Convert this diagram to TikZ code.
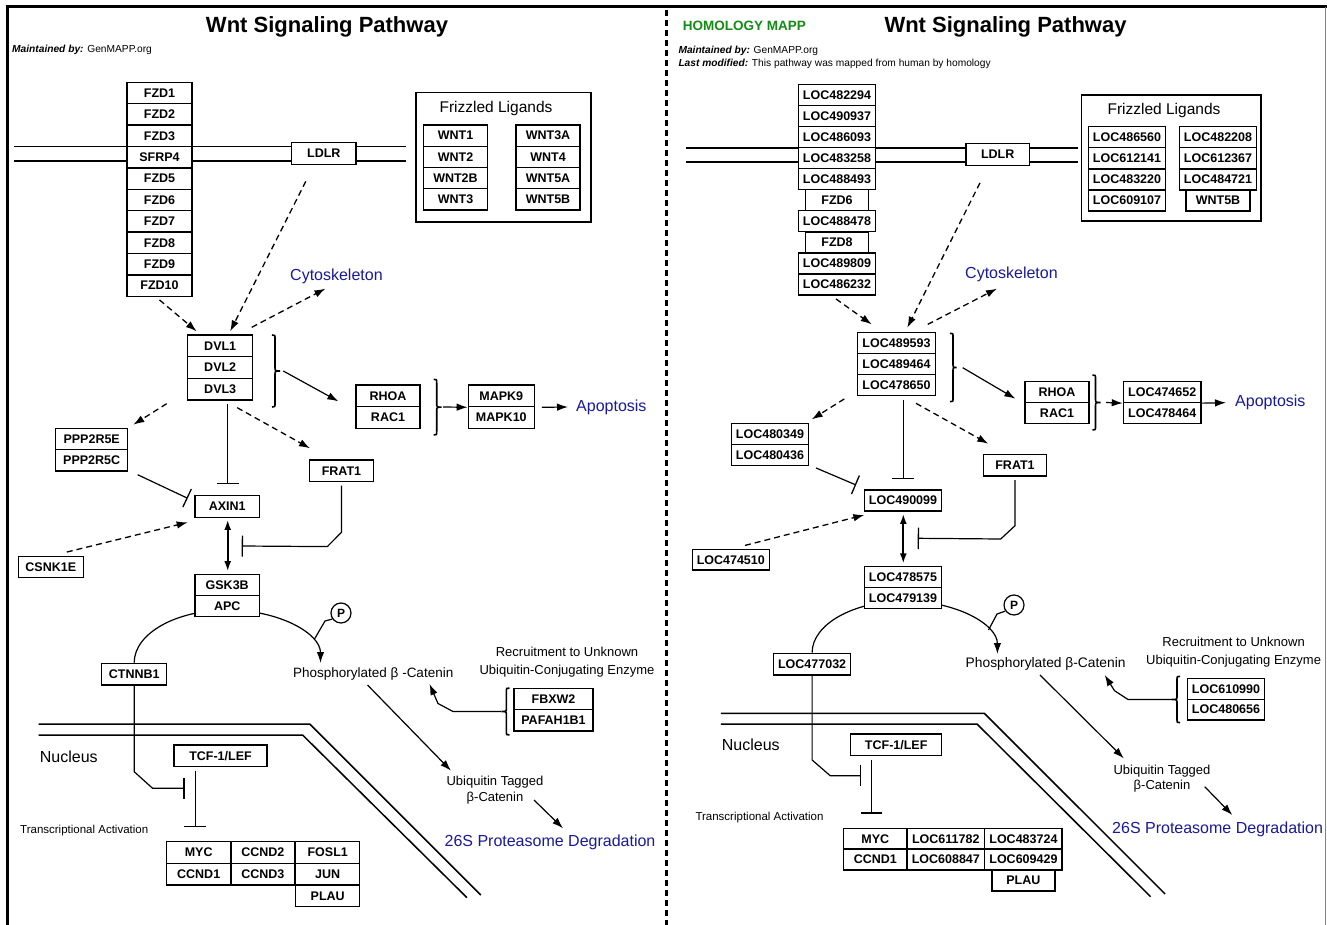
\documentclass[tikz,border=0pt]{standalone}
\usepackage{fontspec}
\setmainfont{Liberation Sans}
\usetikzlibrary{arrows.meta,calc}
\definecolor{mapblue}{RGB}{25,25,155}
\definecolor{mapgreen}{RGB}{20,140,20}
\definecolor{framegray}{RGB}{130,130,130}
\newcommand{\gfont}{\fontsize{12.5}{14}\selectfont\bfseries}
% bracket-like brace: x, y1, y2, direction (1 = tip right, -1 = tip left), tip size
\newcommand{\mybrace}[5]{%
  \pgfmathsetmacro{\brmid}{(#2+#3)/2}%
  \draw[line width=1.6pt] ({#1-3*(#4)},#2) .. controls (#1,#2) .. (#1,{#2+4}) -- (#1,{\brmid-4}) .. controls (#1,\brmid) .. ({#1+(#5)*(#4)},\brmid) .. controls (#1,\brmid) .. (#1,{\brmid+4}) -- (#1,{#3-4}) .. controls (#1,#3) .. ({#1-3*(#4)},#3);%
}
\begin{document}
\begin{tikzpicture}[x=1pt,y=-1pt,
  gene/.style={draw, line width=1.3pt, fill=white, font=\gfont, inner sep=0pt, minimum height=21.4pt},
  lab/.style={inner sep=0pt, font=\fontsize{13}{16}\selectfont},
  bluelab/.style={inner sep=0pt, text=mapblue, font=\fontsize{16}{19}\selectfont, anchor=west},
  titlelab/.style={inner sep=0pt, font=\fontsize{22}{26}\selectfont\bfseries},
  metalab/.style={inner sep=0pt, anchor=west, font=\fontsize{10.2}{12}\selectfont},
  arr/.style={line width=1.2pt, -{Latex[length=11pt,width=7.5pt]}},
  darr/.style={line width=1.3pt, dash pattern=on 6pt off 4pt, -{Latex[length=11pt,width=7.5pt]}},
  inh/.style={line width=1.2pt, -{Bar[width=#1,line width=1.3pt]}},
  inh/.default=21pt,
  dbl/.style={line width=1.8pt, {Latex[length=10pt,width=7pt]}-{Latex[length=10pt,width=7pt]}},
  mem/.style={line width=1.5pt},
  pcirc/.style={draw, circle, line width=1.2pt, fill=white, minimum size=20pt, inner sep=0pt, font=\fontsize{12}{14}\selectfont\bfseries},
]
\useasboundingbox (0,0) rectangle (1327,925);
\fill[white] (0,0) rectangle (1327,925);
% frame
\draw[line width=3pt] (7,925) -- (7,7) -- (1327,7);
\draw[framegray, line width=1.5pt] (1325.5,7) -- (1325.5,925);
\draw[line width=3pt, dash pattern=on 6pt off 4pt] (666,10) -- (666,925);

%%%%%%%%%%%%%%%% LEFT PANEL %%%%%%%%%%%%%%%%
\node[titlelab] (tl) at (327,27) {Wnt Signaling Pathway};
\node[metalab] (mtl) at (12,50) {\textbf{\textit{Maintained by:}} GenMAPP.org};

% membranes
\draw[mem] (14,146.3) -- (406,146.3);
\draw[mem] (14,161) -- (406,161);
\draw[mem] (38.5,724) -- (309.8,724) -- (480.8,895);
\draw[mem] (38.5,735) -- (302.6,735) -- (467,897.7);

% FZD stack
\node[gene, minimum width=65pt] (fzd1) at (159.5,93) {FZD1};
\node[gene, minimum width=65pt] (fzd2) at (159.5,114.4) {FZD2};
\node[gene, minimum width=65pt] (fzd3) at (159.5,135.8) {FZD3};
\node[gene, minimum width=65pt] (sfrp4) at (159.5,157.2) {SFRP4};
\node[gene, minimum width=65pt] (fzd5) at (159.5,178.6) {FZD5};
\node[gene, minimum width=65pt] (fzd6) at (159.5,200) {FZD6};
\node[gene, minimum width=65pt] (fzd7) at (159.5,221.4) {FZD7};
\node[gene, minimum width=65pt] (fzd8) at (159.5,242.8) {FZD8};
\node[gene, minimum width=65pt] (fzd9) at (159.5,264.2) {FZD9};
\node[gene, minimum width=65pt] (fzd10) at (159.5,285.6) {FZD10};

\node[gene, minimum width=64.3pt, minimum height=22pt] (ldlr) at (323.8,153.7) {LDLR};

% Frizzled ligands
\node[draw, line width=1.3pt, minimum width=175pt, minimum height=129.3pt, inner sep=0pt] (flbox) at (503.5,157.35) {};
\node[lab, font=\fontsize{15.5}{18}\selectfont] (flt) at (496,108) {Frizzled Ligands};
\node[gene, minimum width=64.4pt, minimum height=21.25pt] (wnt1) at (455.5,135.6) {WNT1};
\node[gene, minimum width=64.4pt, minimum height=21.25pt] (wnt2) at (455.5,156.9) {WNT2};
\node[gene, minimum width=64.4pt, minimum height=21.25pt] (wnt2b) at (455.5,178.1) {WNT2B};
\node[gene, minimum width=64.4pt, minimum height=21.25pt] (wnt3) at (455.5,199.4) {WNT3};
\node[gene, minimum width=64pt, minimum height=21.25pt] (wnt3a) at (548,135.6) {WNT3A};
\node[gene, minimum width=64pt, minimum height=21.25pt] (wnt4) at (548,156.9) {WNT4};
\node[gene, minimum width=64pt, minimum height=21.25pt] (wnt5a) at (548,178.1) {WNT5A};
\node[gene, minimum width=64pt, minimum height=21.25pt] (wnt5b) at (548,199.4) {WNT5B};

\node[bluelab] (cyto) at (290,276) {Cytoskeleton};

% DVL
\node[gene, minimum width=65pt, minimum height=21.67pt] (dvl1) at (220.2,345.8) {DVL1};
\node[gene, minimum width=65pt, minimum height=21.67pt] (dvl2) at (220.2,367.5) {DVL2};
\node[gene, minimum width=65pt, minimum height=21.67pt] (dvl3) at (220.2,389.2) {DVL3};

\node[gene, minimum width=64pt, minimum height=21.67pt] (rhoa) at (388,395.8) {RHOA};
\node[gene, minimum width=64pt, minimum height=21.67pt] (rac1) at (388,417.5) {RAC1};
\node[gene, minimum width=66pt, minimum height=21.67pt] (mapk9) at (501.3,395.8) {MAPK9};
\node[gene, minimum width=66pt, minimum height=21.67pt] (mapk10) at (501.3,417.5) {MAPK10};
\node[bluelab] (apop) at (576,407) {Apoptosis};

\node[gene, minimum width=72pt, minimum height=21.35pt] (ppp1) at (91.7,439) {PPP2R5E};
\node[gene, minimum width=72pt, minimum height=21.35pt] (ppp2) at (91.7,460.4) {PPP2R5C};
\node[gene, minimum width=64.4pt, minimum height=21.7pt] (frat) at (341.5,470.8) {FRAT1};
\node[gene, minimum width=64.3pt, minimum height=21.6pt] (axin) at (227.2,506.5) {AXIN1};
\node[gene, minimum width=65pt, minimum height=21pt] (csnk) at (50.8,567.2) {CSNK1E};

\node[gene, minimum width=65pt, minimum height=21.7pt] (ctnnb) at (134.2,674.2) {CTNNB1};
\coordinate (ph1) at (320.5,663);
\draw[arr] (ctnnb.north) .. controls (134.2,633.3) and (176.2,610) .. (227.5,610) .. controls (278.8,610) and (320.5,633.3) .. (ph1);

\node[gene, minimum width=64.3pt, minimum height=21.2pt] (gsk) at (227.2,584.9) {GSK3B};
\node[gene, minimum width=64.3pt, minimum height=21.2pt] (apc) at (227.2,606.1) {APC};
\node[pcirc] (p1) at (341,613) {P};
\draw[line width=1.2pt] (p1.215) -- (325,621) -- (314.5,639);

\node[lab, anchor=west, font=\fontsize{13.5}{16}\selectfont] (phos) at (293,674) {Phosphorylated β -Catenin};
\node[lab, align=center, font=\fontsize{13}{18.3}\selectfont] (recr) at (567,662) {Recruitment to Unknown\\Ubiquitin-Conjugating Enzyme};
\node[gene, minimum width=79pt, minimum height=21.35pt] (fbxw) at (553.5,699) {FBXW2};
\node[gene, minimum width=79pt, minimum height=21.35pt] (pafah) at (553.5,720.3) {PAFAH1B1};
\node[lab, align=center, font=\fontsize{13}{16}\selectfont] (ubiq) at (495,789.7) {Ubiquitin Tagged\\β-Catenin};
\node[bluelab] (deg) at (444.4,842.7) {26S Proteasome Degradation};

\node[lab, anchor=west, font=\fontsize{16}{19}\selectfont] (nuc) at (39.7,756.7) {Nucleus};
\node[lab, anchor=west, font=\fontsize{11.5}{14}\selectfont] (trans) at (20,831) {Transcriptional Activation};
\node[gene, minimum width=93pt, minimum height=21.7pt] (tcf) at (220.5,755.8) {TCF-1/LEF};

\node[gene, minimum width=64.1pt, minimum height=21.7pt] (myc) at (198.7,852.5) {MYC};
\node[gene, minimum width=64.1pt, minimum height=21.7pt] (ccnd1) at (198.7,874.2) {CCND1};
\node[gene, minimum width=64.1pt, minimum height=21.7pt] (ccnd2) at (262.9,852.5) {CCND2};
\node[gene, minimum width=64.1pt, minimum height=21.7pt] (ccnd3) at (262.9,874.2) {CCND3};
\node[gene, minimum width=64.1pt, minimum height=21.7pt] (fosl1) at (327.7,852.5) {FOSL1};
\node[gene, minimum width=64.1pt, minimum height=21.7pt] (jun) at (327.7,874.2) {JUN};
\node[gene, minimum width=64.1pt, minimum height=21.7pt] (plau) at (327.7,895.9) {PLAU};

% left connectors
\draw[darr] ([yshift=-3pt]fzd10.south) -- ([xshift=-23.5pt,yshift=3pt]dvl1.north);
\draw[darr] ([xshift=-18pt,yshift=-16pt]ldlr.south) -- ([xshift=10pt,yshift=3pt]dvl1.north);
\draw[darr] ([xshift=31.5pt,yshift=7pt]dvl1.north) -- ([xshift=-11pt,yshift=-5pt]cyto.south);
\mybrace{275}{335}{407}{1}{5}
\coordinate (b1) at (283.3,371);
\draw[arr] (b1) -- ([xshift=-17pt,yshift=-17pt]rhoa.north west);
\mybrace{436.7}{379.3}{435}{1}{5}
\coordinate (b2) at (443,407);
\draw[arr] (b2) -- (mapk9.south west);
\draw[arr] ([xshift=7pt]mapk9.south east) -- ([xshift=-8pt]apop.west);
\draw[darr] ([xshift=-53.5pt,yshift=-3pt]dvl3.south) -- ([xshift=41.6pt,yshift=3pt]ppp1.north);
\draw[darr] ([xshift=17pt,yshift=-7pt]dvl3.south) -- ([xshift=-31.5pt,yshift=11pt]frat.north);
\draw[inh=22pt] ([xshift=7.5pt,yshift=-3pt]dvl3.south) -- ([xshift=0.5pt,yshift=11pt]axin.north);
\draw[inh=20pt] ([xshift=46pt,yshift=-3pt]ppp2.south) -- ([xshift=-6.7pt,yshift=8.2pt]axin.west);
\draw[darr] ([xshift=16pt,yshift=4pt]csnk.north) -- ([xshift=-6.7pt,yshift=-4.4pt]axin.south west);
\draw[dbl] ([xshift=0.5pt,yshift=-2pt]axin.south) -- ([xshift=0.5pt,yshift=2.6pt]gsk.north);
\coordinate (fi) at (241.7,546);
\draw[inh] ([yshift=-3.3pt]frat.south) -- ++(0,46.7) -- ++(-14.2,14.3) -- (fi);
\mybrace{506.4}{688}{735}{-1}{5}
\coordinate (b3) at (501,711.5);
\coordinate (phr) at (429.5,684);
\draw[arr] (b3) -- (453,711.5) -- (438,703.5) -- (phr);
\coordinate (u1) at (367.5,685);
\coordinate (u2) at (451,770.7);
\draw[arr] (u1) -- (u2);
\coordinate (d1) at (534,800);
\coordinate (d2) at (563,828.3);
\draw[arr] (d1) -- (d2);
\coordinate (ci) at (184.6,788.3);
\draw[inh] (ctnnb.south) -- (134.2,771.7) -- (152.6,788.3) -- (ci);
\draw[inh=22pt] ([xshift=-25.2pt,yshift=-3.3pt]tcf.south) -- ([xshift=-3.4pt,yshift=14pt]myc.north);

%%%%%%%%%%%%%%%% RIGHT PANEL %%%%%%%%%%%%%%%%
\node[titlelab] (tr) at (1005.5,27) {Wnt Signaling Pathway};
\node[inner sep=0pt, text=mapgreen, font=\fontsize{13.5}{16}\selectfont\bfseries, anchor=west] (hom) at (682.7,26) {HOMOLOGY MAPP};
\node[metalab] (mtr) at (678.3,50.7) {\textbf{\textit{Maintained by:}} GenMAPP.org};
\node[metalab] (lmr) at (678.3,64.3) {\textbf{\textit{Last modified:}} This pathway was mapped from human by homology};

\draw[mem] (686,148) -- (1078.3,148);
\draw[mem] (686,162) -- (1078.3,162);
\draw[mem] (720.9,713.3) -- (984.3,713.3) -- (1165.1,894);
\draw[mem] (720.9,724) -- (977,724) -- (1150.6,896.7);

\node[gene, minimum width=77.4pt, minimum height=21.07pt] (loc1) at (837,94.8) {LOC482294};
\node[gene, minimum width=77.4pt, minimum height=21.07pt] (loc2) at (837,115.9) {LOC490937};
\node[gene, minimum width=77.4pt, minimum height=21.07pt] (loc3) at (837,137) {LOC486093};
\node[gene, minimum width=77.4pt, minimum height=21.07pt] (loc4) at (837,158.1) {LOC483258};
\node[gene, minimum width=77.4pt, minimum height=21.07pt] (loc5) at (837,179.2) {LOC488493};
\node[gene, minimum width=63pt, minimum height=21.07pt] (loc6) at (837,200.2) {FZD6};
\node[gene, minimum width=77.4pt, minimum height=21.07pt] (loc7) at (837,221.3) {LOC488478};
\node[gene, minimum width=63pt, minimum height=21.07pt] (loc8) at (837,242.4) {FZD8};
\node[gene, minimum width=77.4pt, minimum height=21.07pt] (loc9) at (837,263.5) {LOC489809};
\node[gene, minimum width=77.4pt, minimum height=21.07pt] (loc10) at (837,284.6) {LOC486232};

\node[gene, minimum width=63.3pt, minimum height=21.7pt] (ldlrR) at (997.65,154.7) {LDLR};

\node[draw, line width=1.3pt, minimum width=179.3pt, minimum height=126pt, inner sep=0pt] (flboxR) at (1171.35,158) {};
\node[lab, font=\fontsize{15.5}{18}\selectfont] (fltR) at (1164,110) {Frizzled Ligands};
\node[gene, minimum width=77.4pt, minimum height=21.07pt] (fa1) at (1127,137.2) {LOC486560};
\node[gene, minimum width=77.4pt, minimum height=21.07pt] (fa2) at (1127,158.3) {LOC612141};
\node[gene, minimum width=77.4pt, minimum height=21.07pt] (fa3) at (1127,179.4) {LOC483220};
\node[gene, minimum width=77.4pt, minimum height=21.07pt] (fa4) at (1127,200.5) {LOC609107};
\node[gene, minimum width=77.4pt, minimum height=21.07pt] (fb1) at (1218,137.2) {LOC482208};
\node[gene, minimum width=77.4pt, minimum height=21.07pt] (fb2) at (1218,158.3) {LOC612367};
\node[gene, minimum width=77.4pt, minimum height=21.07pt] (fb3) at (1218,179.4) {LOC484721};
\node[gene, minimum width=64pt, minimum height=21.07pt] (fb4) at (1218,200.5) {WNT5B};

\node[bluelab] (cytoR) at (965,274) {Cytoskeleton};

\node[gene, minimum width=77.6pt, minimum height=21.13pt] (lc1) at (896.5,342.9) {LOC489593};
\node[gene, minimum width=77.6pt, minimum height=21.13pt] (lc2) at (896.5,364) {LOC489464};
\node[gene, minimum width=77.6pt, minimum height=21.13pt] (lc3) at (896.5,385.1) {LOC478650};

\node[gene, minimum width=64pt, minimum height=20.8pt] (rhoaR) at (1057,392.1) {RHOA};
\node[gene, minimum width=64pt, minimum height=20.8pt] (rac1R) at (1057,412.9) {RAC1};
\node[gene, minimum width=77.7pt, minimum height=20.8pt] (lr1) at (1162.2,392.1) {LOC474652};
\node[gene, minimum width=77.7pt, minimum height=20.8pt] (lr2) at (1162.2,412.9) {LOC478464};
\node[bluelab] (apopR) at (1235,402.7) {Apoptosis};

\node[gene, minimum width=76.6pt, minimum height=21.2pt] (l80a) at (770,433.9) {LOC480349};
\node[gene, minimum width=76.6pt, minimum height=21.2pt] (l80b) at (770,455.1) {LOC480436};
\node[gene, minimum width=63.4pt, minimum height=21.7pt] (fratR) at (1015,465.2) {FRAT1};
\node[gene, minimum width=77.4pt, minimum height=21pt] (l90) at (903,500.5) {LOC490099};
\node[gene, minimum width=77pt, minimum height=20.7pt] (l74) at (730.8,559.7) {LOC474510};

\node[gene, minimum width=77pt, minimum height=21.7pt] (l77) at (812.1,664.2) {LOC477032};
\coordinate (rph) at (997.4,654);
\draw[arr] (l77.north) .. controls (812.1,624.3) and (853.5,601) .. (904.7,601) .. controls (955.9,601) and (997.4,624.3) .. (rph);

\node[gene, minimum width=77.4pt, minimum height=20.8pt] (l785) at (903,577.1) {LOC478575};
\node[gene, minimum width=77.4pt, minimum height=20.8pt] (l791) at (903,597.9) {LOC479139};
\node[pcirc] (p2) at (1014,605) {P};
\draw[line width=1.2pt] (p2.215) -- (997,614) -- (988.5,630);

\node[lab, anchor=west, font=\fontsize{13.8}{16}\selectfont] (phosR) at (965.5,664) {Phosphorylated β-Catenin};
\node[lab, align=center, font=\fontsize{13}{17.7}\selectfont] (recrR) at (1233.6,652.2) {Recruitment to Unknown\\Ubiquitin-Conjugating Enzyme};
\node[gene, minimum width=76.6pt, minimum height=20.7pt] (l610) at (1226,688.9) {LOC610990};
\node[gene, minimum width=76.6pt, minimum height=20.7pt] (l480) at (1226,709.6) {LOC480656};
\node[lab, align=center, font=\fontsize{13}{15}\selectfont] (ubiqR) at (1162,778.2) {Ubiquitin Tagged\\β-Catenin};
\node[bluelab] (degR) at (1112,829) {26S Proteasome Degradation};

\node[lab, anchor=west, font=\fontsize{16}{19}\selectfont] (nucR) at (721.7,745) {Nucleus};
\node[lab, anchor=west, font=\fontsize{11.5}{14}\selectfont] (transR) at (695.3,817.7) {Transcriptional Activation};
\node[gene, minimum width=91.1pt, minimum height=21.7pt] (tcfR) at (896.2,744.9) {TCF-1/LEF};

\node[gene, minimum width=63pt, minimum height=20.9pt] (mycR) at (875.3,838.7) {MYC};
\node[gene, minimum width=63pt, minimum height=20.9pt] (ccnd1R) at (875.3,859.5) {CCND1};
\node[gene, minimum width=77.9pt, minimum height=20.9pt] (g1) at (945.8,838.7) {LOC611782};
\node[gene, minimum width=77.9pt, minimum height=20.9pt] (g2) at (945.8,859.5) {LOC608847};
\node[gene, minimum width=77.4pt, minimum height=20.9pt] (g3) at (1023.4,838.7) {LOC483724};
\node[gene, minimum width=77.4pt, minimum height=20.9pt] (g4) at (1023.4,859.5) {LOC609429};
\node[gene, minimum width=63pt, minimum height=20.9pt] (plauR) at (1023.4,880.4) {PLAU};

% right connectors
\draw[darr] ([xshift=-1pt,yshift=-3.2pt]loc10.south) -- ([xshift=-24.8pt,yshift=7.3pt]lc1.north);
\draw[darr] ([xshift=-17.7pt,yshift=-16.7pt]ldlrR.south) -- ([xshift=10.8pt,yshift=4pt]lc1.north);
\draw[darr] ([xshift=31.2pt,yshift=7.3pt]lc1.north) -- ([xshift=-14.5pt,yshift=-7pt]cytoR.south);
\mybrace{953}{333.3}{401.7}{1}{3.5}
\coordinate (rb1) at (962.7,367.7);
\draw[arr] (rb1) -- ([xshift=-9pt,yshift=-17.6pt]rhoaR.north west);
\mybrace{1095.5}{375}{430}{1}{5}
\coordinate (rb2) at (1106,402.5);
\draw[arr] (rb2) -- (lr1.south west);
\draw[arr] (lr1.south east) -- ([xshift=-9pt]apopR.west);
\draw[darr] ([xshift=-52.2pt,yshift=-2.6pt]lc3.south) -- ([xshift=41.7pt,yshift=3.3pt]l80a.north);
\draw[darr] ([xshift=19.5pt,yshift=-7pt]lc3.south) -- ([xshift=-26.7pt,yshift=10pt]fratR.north);
\draw[inh=22pt] ([xshift=6.8pt,yshift=-3.3pt]lc3.south) -- ([xshift=0.3pt,yshift=10pt]l90.north);
\draw[inh=20pt] ([xshift=46pt,yshift=-1.6pt]l80b.south) -- ([xshift=-7.6pt,yshift=15.5pt]l90.west);
\draw[darr] ([xshift=14.2pt,yshift=3.3pt]l74.north) -- ([xshift=0.7pt,yshift=-3.3pt]l90.south west);
\draw[dbl] ([xshift=0.3pt,yshift=-2.3pt]l90.south) -- ([xshift=0.3pt,yshift=2.7pt]l785.north);
\coordinate (rfi) at (917.7,538.3);
\draw[inh=21.6pt] ([yshift=-3.3pt]fratR.south) -- ++(0,45.7) -- ++(-14.3,13.3) -- (rfi);
\mybrace{1177}{676.3}{722.7}{-1}{5}
\coordinate (rb3) at (1172,699.5);
\coordinate (rphr) at (1104.7,675);
\draw[arr] (rb3) -- (1128,699.5) -- (1114.5,690.7) -- (rphr);
\coordinate (ru1) at (1040,675);
\coordinate (ru2) at (1123.8,758.3);
\draw[arr] (ru1) -- (ru2);
\coordinate (rd1) at (1204.7,786.7);
\coordinate (rd2) at (1232.3,815);
\draw[arr] (rd1) -- (rd2);
\coordinate (rci) at (861.3,775.7);
\draw[inh] (l77.south) -- (812.1,760) -- (830.2,775.7) -- (rci);
\draw[inh] ([xshift=-24.7pt,yshift=-3.3pt]tcfR.south) -- ([xshift=-3.8pt,yshift=14pt]mycR.north);
\end{tikzpicture}
\end{document}
